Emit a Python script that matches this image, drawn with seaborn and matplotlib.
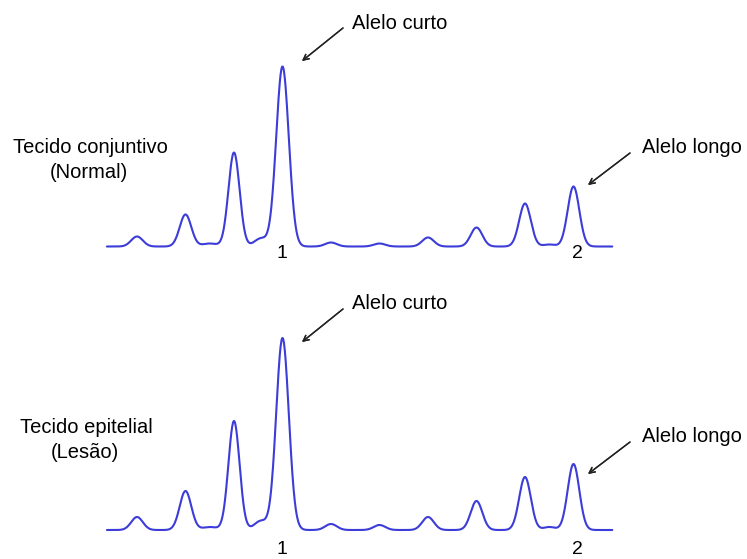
import numpy as np
import pandas as pd
import matplotlib
matplotlib.use('Agg')
import matplotlib.pyplot as plt
import seaborn as sns

# Peak table (position in repeat units, height in signal units)
peak_pos = [0, 1, 1.5, 2, 2.55, 3, 4, 5, 6, 7, 8, 8.5, 9]
peak_width = [0.12, 0.12, 0.15, 0.115, 0.13, 0.13, 0.12, 0.12, 0.12, 0.12, 0.12, 0.12, 0.12]
normal_height = [10, 32, 3, 94, 8, 180, 4, 3, 9, 19, 43, 2, 60]
lesion_height = [13, 39, 3, 109, 9, 192, 6, 5, 13, 29, 53, 3, 66]

trace_start, trace_end = -0.62, 9.8
allele_labels = ['1', '2']
allele_pos = [3, 9]

panel_titles = [('Tecido conjuntivo', '(Normal)'), ('Tecido epitelial', '(Lesão)')]

sns.set_style('white')
plt.rcParams['font.family'] = ['Liberation Sans', 'DejaVu Sans']
plt.rcParams['text.color'] = 'black'

W, H = 747, 559
fig = plt.figure(figsize=(W / 100, H / 100), dpi=100)

def fp(x, y):
    # pixel (from top-left) -> figure fraction
    return (x / W, 1 - y / H)

line_color = '#3c3cd8'
scale = 48.5      # pixels per repeat unit
x0_px = 137

def trace(heights):
    x = np.linspace(trace_start, trace_end, 1200)
    y = np.zeros_like(x)
    for p, w, h in zip(peak_pos, peak_width, heights):
        y += h * np.exp(-0.5 * ((x - p) / w) ** 2)
    return pd.DataFrame({'pos': x, 'signal': y})

# panel layout: (top row px, bottom row px, baseline px)
panels = [(0, 280, 246.5, normal_height), (280, 559, 530, lesion_height)]

for i, (top, bot, base, heights) in enumerate(panels):
    ax = fig.add_axes([0, 1 - bot / H, 1, (bot - top) / H])
    df = trace(heights)
    sns.lineplot(data=df, x='pos', y='signal', ax=ax, color=line_color, linewidth=1.5)
    ax.set_xlim(-x0_px / scale, (W - x0_px) / scale)
    ax.set_ylim(-(bot - base), base - top)
    ax.axis('off')

    # allele numbers under peaks
    for lab, p in zip(allele_labels, allele_pos):
        xp = x0_px + p * scale + (4 if lab == '2' else -1)
        fig.text(*fp(xp, base + 12 if i == 0 else base + 24), lab, ha='center', va='baseline',
                 fontsize=14, color='black')

    # sample labels
    l1, l2 = panel_titles[i]
    y1 = 153 if i == 0 else 433
    cx = 90 if i == 0 else 86
    fig.text(*fp(cx, y1), l1, ha='center', va='baseline', fontsize=14.5, color='black')
    fig.text(*fp(cx - 1, y1 + 25), l2, ha='center', va='baseline', fontsize=14.5, color='black')

    # annotations
    arrow = dict(arrowstyle='->', color='#222222', lw=1.0, shrinkA=0, shrinkB=0)
    dy = 0 if i == 0 else 284
    fig.text(*fp(352, 29 + dy - (4 if i else 0)), 'Alelo curto', ha='left', va='baseline',
             fontsize=14.5, color='black')
    fig.add_artist(plt.annotate('', xy=fp(302, 61 + dy - 3 * i), xycoords='figure fraction',
                                xytext=fp(343, 28 + dy - 3 * i), textcoords='figure fraction',
                                arrowprops=arrow))
    ly = 153 if i == 0 else 442
    fig.text(*fp(642, ly), 'Alelo longo', ha='left', va='baseline', fontsize=14.5, color='black')
    fig.add_artist(plt.annotate('', xy=fp(588, ly + 32), xycoords='figure fraction',
                                xytext=fp(630, ly), textcoords='figure fraction',
                                arrowprops=arrow))

fig.savefig('out.png', dpi=100, facecolor='white')
